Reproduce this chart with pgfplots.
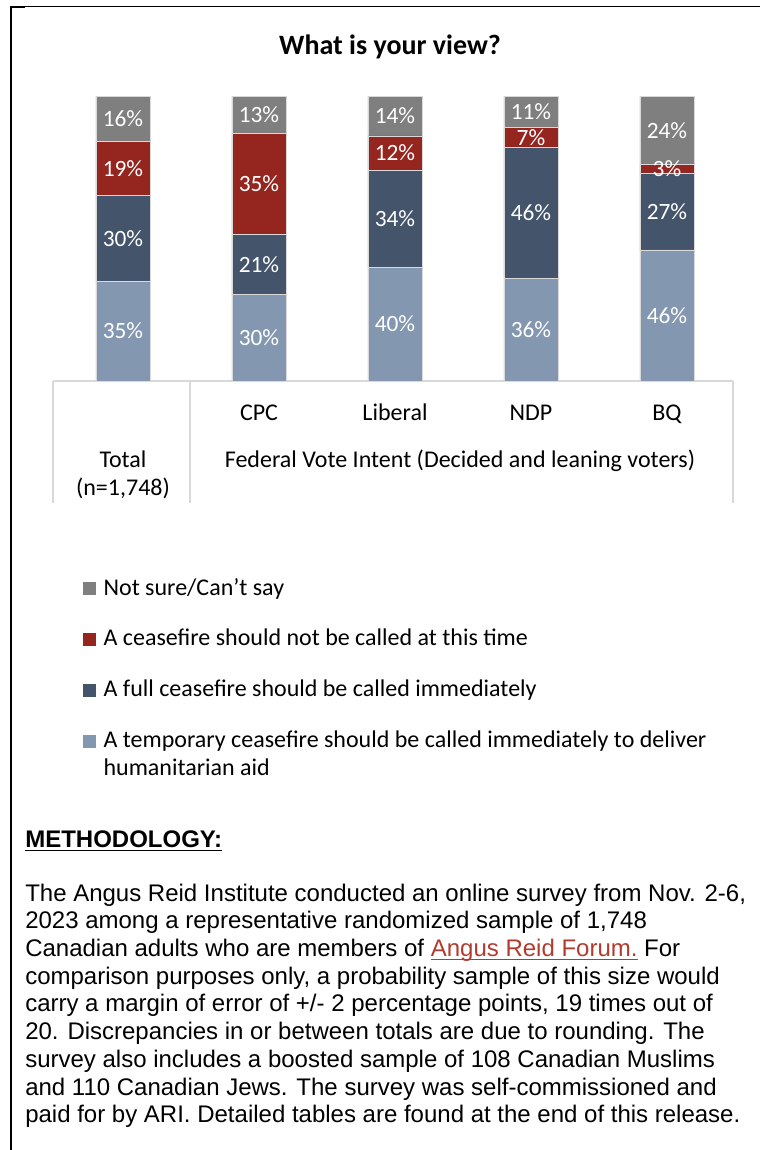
\documentclass[border=0pt]{standalone}
\usepackage{fontspec}
\usepackage{pgfplots}
\usepackage{pgfplotstable}
\pgfplotsset{compat=1.18}
\setmainfont{Carlito}
\newfontfamily\arial{Liberation Sans}
\definecolor{cgrey}{HTML}{7F7F7F}
\definecolor{cred}{HTML}{95261F}
\definecolor{cdark}{HTML}{44546A}
\definecolor{clight}{HTML}{8497B0}
\definecolor{cgrid}{HTML}{D9D9D9}
\definecolor{clink}{HTML}{B33B2D}
\newcommand{\uline}[1]{\leavevmode\setbox0\hbox{#1}\rlap{\rule[-3pt]{\wd0}{1.1pt}}\box0}

\pgfplotstableread{
x v lab
0 35 35
1 30.3 30
2 40 40
3 36 36
4 46 46
}\temporary
\pgfplotstableread{
x v lab
0 30 30
1 21.2 21
2 34 34
3 46 46
4 27 27
}\full
\pgfplotstableread{
x v lab
0 19 19
1 35.4 35
2 12 12
3 7 7
4 3 3
}\notnow
\pgfplotstableread{
x v lab
0 16 16
1 13.1 13
2 14 14
3 11 11
4 24 24
}\notsure

\newcommand{\cf}{\fontsize{18}{21}\selectfont}
\newcommand{\lt}[1]{\begin{tabular}[t]{@{}l@{}}#1\end{tabular}}
\DeclareRobustCommand{\totlab}{\begin{tabular}[t]{@{}c@{}}Total\\(n=1,748)\end{tabular}}
\pgfplotsset{sq/.style={legend image code/.code={\fill[##1, draw=none] (0pt,0pt) rectangle (9.75pt,9.75pt);}}}

\begin{document}
\begin{tikzpicture}
\useasboundingbox (0,0) rectangle (570pt,-862.5pt);
\begin{scope}[x=0.75pt,y=-0.75pt]
\draw[line width=0.9pt] (10,6.5) -- (760,6.5);
\draw[line width=1.6pt] (11,5.5) -- (11,1152);
\draw[line width=1.6pt] (10,6.8) -- (25,6.8);
\node[anchor=base, font=\fontsize{21}{24}\selectfont\bfseries] at (390,54) {What is your view?};
\draw[cgrid, line width=1.5pt] (53,381) -- (733,381);
\draw[cgrid, line width=1.5pt] (53,381) -- (53,503);
\draw[cgrid, line width=1.5pt] (190,381) -- (190,503);
\draw[cgrid, line width=1.5pt] (733,381) -- (733,503);
\node[anchor=base, font=\cf] at (460,467) {Federal Vote Intent (Decided and leaning voters)};
\node[anchor=base west, inner sep=0pt, font=\arial\fontsize{18}{20.8}\selectfont\bfseries] at (25,847) {\uline{METHODOLOGY:}};
\node[anchor=base west, inner sep=0pt, font=\arial\fontsize{18}{20.8}\selectfont] at (25,901) {\lt{The Angus Reid Institute conducted an online survey from Nov. 2-6,\\
2023 among a representative randomized sample of 1,748\\
Canadian adults who are members of {\color{clink}\uline{Angus Reid Forum.}} For\\
comparison purposes only, a probability sample of this size would\\
carry a margin of error of +/- 2 percentage points, 19 times out of\\
20. Discrepancies in or between totals are due to rounding. The\\
survey also includes a boosted sample of 108 Canadian Muslims\\
and 110 Canadian Jews. The survey was self-commissioned and\\
paid for by ARI. Detailed tables are found at the end of this release.}};
\end{scope}
\begin{axis}[
  at={(41.25pt,-285.75pt)}, anchor=south west,
  scale only axis, width=510pt, height=213.75pt,
  ybar stacked, bar width=40.5pt,
  xmin=-0.5, xmax=4.5, ymin=0, ymax=100,
  axis line style={draw=none},
  ytick=\empty,
  xtick={1,2,3,4},
  xticklabels={CPC,Liberal,NDP,BQ},
  major tick length=0pt,
  xticklabel style={anchor=base, yshift=-29.25pt, font=\cf, inner sep=0pt},
  extra x ticks={0},
  extra x tick labels={\totlab},
  extra x tick style={xticklabel style={yshift=-35.25pt}},
  clip=false,
  nodes near coords={\pgfplotspointmeta\%},
  point meta=explicit symbolic,
  every node near coord/.append style={anchor=center, text=white, font=\fontsize{17.5}{20}\selectfont},
  reverse legend,
  legend cell align=left,
  legend style={draw=none, fill=none, at={(0.0412,-0.672)}, anchor=north west, inner sep=0pt, row sep=18pt, column sep=3.5pt, font=\cf, cells={anchor=base west}},
]
\addplot[fill=clight, draw=cgrid, line width=0.5pt, sq] table[x=x,y=v,meta=lab]{\temporary};
\addlegendentry{\lt{A temporary ceasefire should be called immediately to deliver\\humanitarian aid}}
\addplot[fill=cdark, draw=cgrid, line width=0.5pt, sq] table[x=x,y=v,meta=lab]{\full};
\addlegendentry{\lt{A full ceasefire should be called immediately}}
\addplot[fill=cred, draw=cgrid, line width=0.5pt, sq] table[x=x,y=v,meta=lab]{\notnow};
\addlegendentry{\lt{A ceasefire should not be called at this time}}
\addplot[fill=cgrey, draw=cgrid, line width=0.5pt, sq] table[x=x,y=v,meta=lab]{\notsure};
\addlegendentry{\lt{Not sure/Can’t say}}
\end{axis}
\end{tikzpicture}
\end{document}
